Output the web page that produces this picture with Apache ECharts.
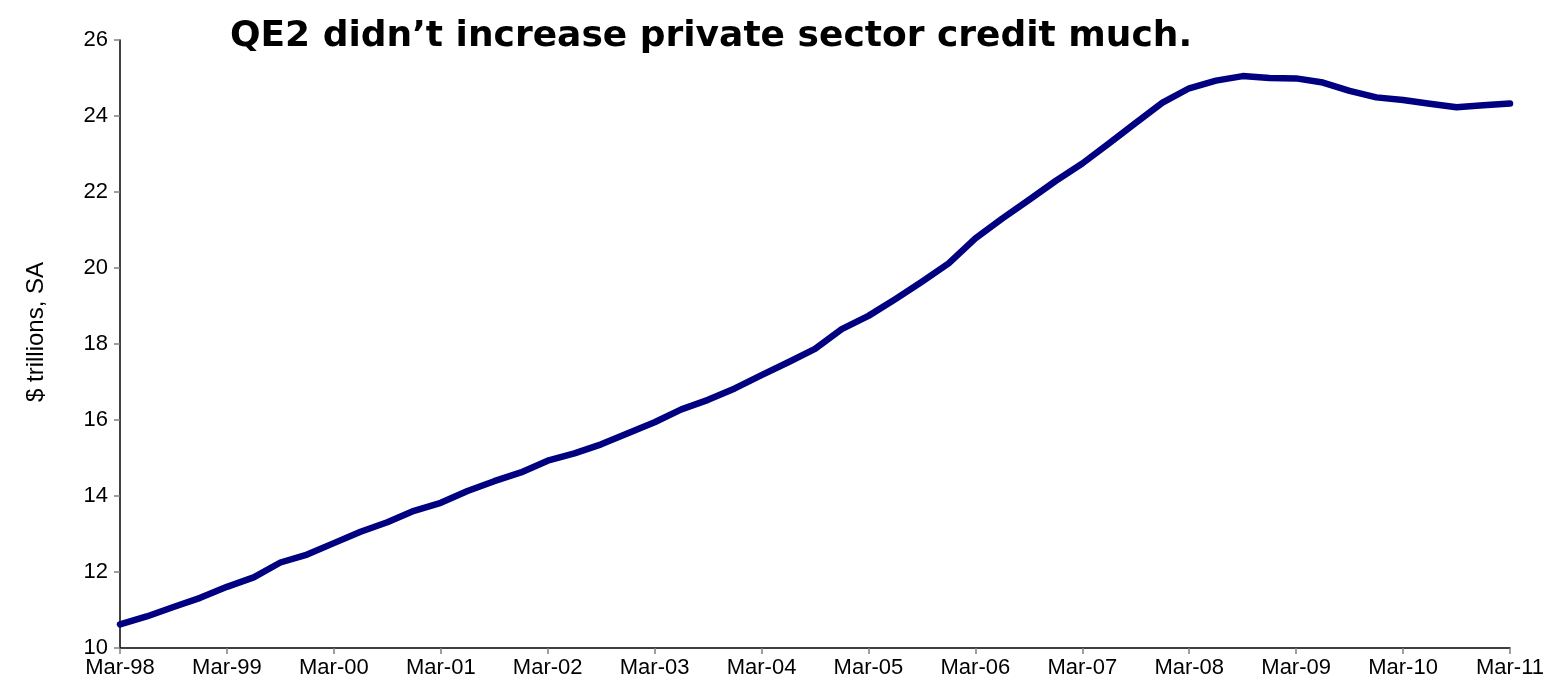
<!DOCTYPE html>
<html>
<head>
<meta charset="utf-8">
<title>Private sector credit</title>
<script src="https://cdn.jsdelivr.net/npm/echarts@6/dist/echarts.min.js"></script>
<style>
  html, body { margin: 0; padding: 0; background: #ffffff; }
  #chart { width: 1556px; height: 696px; }
</style>
</head>
<body>
<div id="chart"></div>
<script>
// Quarterly observations, Mar-98 through Mar-11
const quarters = [
  'Mar-98','Jun-98','Sep-98','Dec-98',
  'Mar-99','Jun-99','Sep-99','Dec-99',
  'Mar-00','Jun-00','Sep-00','Dec-00',
  'Mar-01','Jun-01','Sep-01','Dec-01',
  'Mar-02','Jun-02','Sep-02','Dec-02',
  'Mar-03','Jun-03','Sep-03','Dec-03',
  'Mar-04','Jun-04','Sep-04','Dec-04',
  'Mar-05','Jun-05','Sep-05','Dec-05',
  'Mar-06','Jun-06','Sep-06','Dec-06',
  'Mar-07','Jun-07','Sep-07','Dec-07',
  'Mar-08','Jun-08','Sep-08','Dec-08',
  'Mar-09','Jun-09','Sep-09','Dec-09',
  'Mar-10','Jun-10','Sep-10','Dec-10',
  'Mar-11'
];

// Private sector credit outstanding, $ trillions, seasonally adjusted
const credit = [
  10.62, 10.83, 11.08, 11.32,
  11.61, 11.86, 12.25, 12.46,
  12.76, 13.06, 13.31, 13.61,
  13.82, 14.13, 14.39, 14.62,
  14.93, 15.12, 15.36, 15.65,
  15.94, 16.28, 16.53, 16.83,
  17.18, 17.52, 17.87, 18.39,
  18.74, 19.18, 19.64, 20.12,
  20.78, 21.30, 21.79, 22.29,
  22.75, 23.28, 23.82, 24.35,
  24.73, 24.93, 25.05, 25.00,
  24.99, 24.88, 24.66, 24.49,
  24.42, 24.32, 24.23, 24.28,
  24.33
];

const yTicks = { min: 10, max: 26, step: 2 };
const titleText = 'QE2 didn\u2019t increase private sector credit much.';
const yAxisTitle = '$ trillions, SA';

const chart = echarts.init(document.getElementById('chart'), null, { renderer: 'canvas' });

chart.setOption({
  backgroundColor: '#ffffff',
  animation: false,
  title: {
    text: titleText,
    left: 706,
    top: 14,
    textAlign: 'center',
    textStyle: {
      fontFamily: '"DejaVu Sans", sans-serif',
      fontWeight: 'bold',
      fontSize: 36,
      color: '#000000'
    }
  },
  grid: { left: 120, right: 46, top: 40, bottom: 48, containLabel: false },
  xAxis: {
    type: 'category',
    data: quarters,
    boundaryGap: false,
    axisLine: { show: true, lineStyle: { color: '#000000', width: 1.5 } },
    axisTick: { show: true, interval: 3, length: 6, lineStyle: { color: '#808080', width: 1.5 } },
    axisLabel: {
      interval: 3,
      margin: 9,
      color: '#000000',
      fontFamily: '"Liberation Sans", Arial, sans-serif',
      fontSize: 22
    },
    splitLine: { show: false }
  },
  yAxis: {
    type: 'value',
    min: yTicks.min,
    max: yTicks.max,
    interval: yTicks.step,
    name: yAxisTitle,
    nameLocation: 'middle',
    nameRotate: 90,
    nameGap: 72,
    nameTextStyle: {
      color: '#000000',
      fontFamily: '"Liberation Sans", Arial, sans-serif',
      fontSize: 24,
      padding: [0, 0, 0, 24]
    },
    axisLine: { show: true, lineStyle: { color: '#000000', width: 1.5 } },
    axisTick: { show: true, length: 6, lineStyle: { color: '#808080', width: 1.5 } },
    axisLabel: {
      margin: 12,
      color: '#000000',
      fontFamily: '"Liberation Sans", Arial, sans-serif',
      fontSize: 22
    },
    splitLine: { show: false }
  },
  series: [{
    type: 'line',
    data: credit,
    showSymbol: false,
    symbol: 'none',
    smooth: false,
    lineStyle: { color: '#000080', width: 6.5, cap: 'round', join: 'round' }
  }]
});
</script>
</body>
</html>
